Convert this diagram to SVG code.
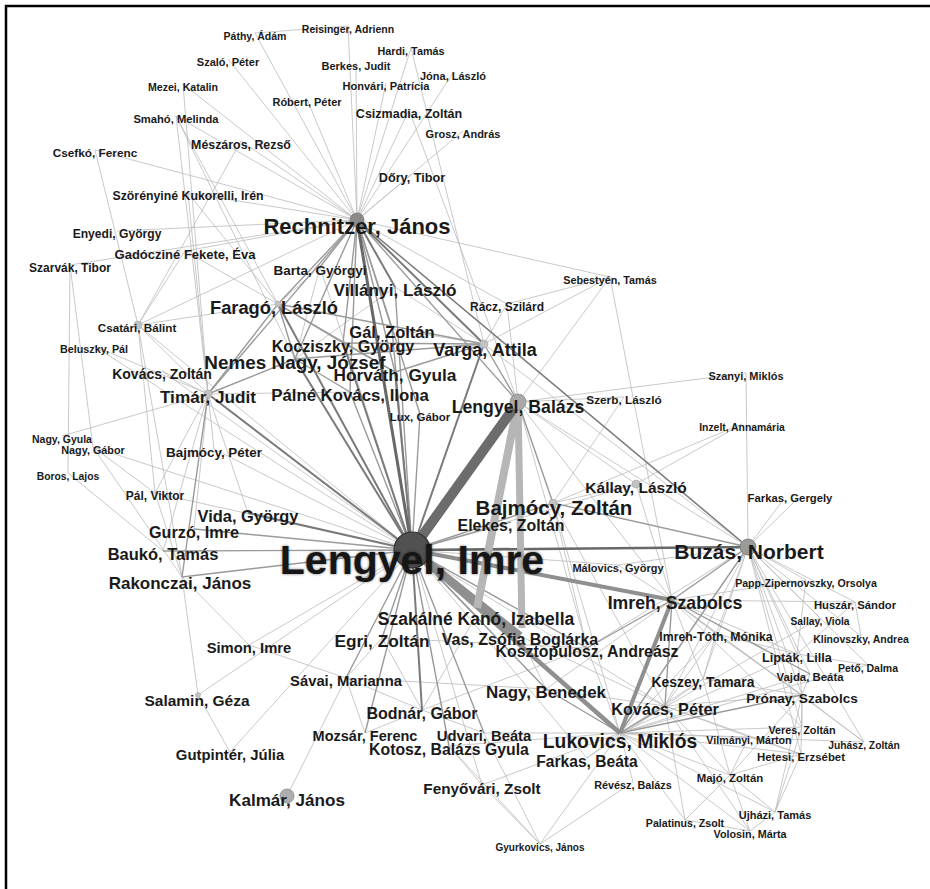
<svg xmlns="http://www.w3.org/2000/svg" width="930" height="889" viewBox="0 0 930 889">
<defs>
<style>
.n{font-family:"Liberation Sans",Arial,Helvetica,sans-serif;font-weight:bold;fill:#1a1a1a;text-anchor:middle}
.t line{stroke:#bbbbbb;stroke-width:0.8}
.m line{stroke:#9a9a9a;stroke-width:1.4}
.d line{stroke:#7a7a7a;stroke-width:2}
.k line{stroke:#686868;stroke-width:3}
.sm{fill:#c2c2c2;stroke:#a8a8a8;stroke-width:0.6}
</style>
<filter id="soft" x="-10%" y="-30%" width="120%" height="160%"><feGaussianBlur stdDeviation="1.6"/></filter>
</defs>
<rect width="930" height="889" fill="#fff"/>
<path d="M6,889 V6 H930" fill="none" stroke="#000" stroke-width="2.5"/>
<g id="connectors">
<g class="t">
<line x1="357" y1="220" x2="255" y2="33"/>
<line x1="357" y1="220" x2="348" y2="26"/>
<line x1="357" y1="220" x2="411" y2="48"/>
<line x1="357" y1="220" x2="356" y2="63"/>
<line x1="357" y1="220" x2="453" y2="73"/>
<line x1="357" y1="220" x2="386" y2="83"/>
<line x1="357" y1="220" x2="307" y2="99"/>
<line x1="357" y1="220" x2="409" y2="110"/>
<line x1="357" y1="220" x2="463" y2="131"/>
<line x1="357" y1="220" x2="412" y2="174"/>
<line x1="357" y1="220" x2="228" y2="59"/>
<line x1="357" y1="220" x2="183" y2="84"/>
<line x1="357" y1="220" x2="176" y2="116"/>
<line x1="357" y1="220" x2="241" y2="141"/>
<line x1="357" y1="220" x2="95" y2="150"/>
<line x1="357" y1="220" x2="188" y2="193"/>
<line x1="357" y1="220" x2="117" y2="231"/>
<line x1="357" y1="220" x2="185" y2="251"/>
<line x1="357" y1="220" x2="70" y2="265"/>
<line x1="357" y1="220" x2="507" y2="304"/>
<line x1="357" y1="220" x2="610" y2="277"/>
<line x1="357" y1="220" x2="138" y2="325"/>
<line x1="255" y1="33" x2="348" y2="26"/>
<line x1="409" y1="110" x2="518" y2="402"/>
<line x1="411" y1="48" x2="484" y2="344"/>
<line x1="183" y1="84" x2="208" y2="394"/>
<line x1="176" y1="116" x2="208" y2="394"/>
<line x1="176" y1="116" x2="278" y2="304"/>
<line x1="176" y1="116" x2="295" y2="359"/>
<line x1="241" y1="141" x2="138" y2="325"/>
<line x1="95" y1="150" x2="138" y2="325"/>
<line x1="188" y1="193" x2="208" y2="394"/>
<line x1="188" y1="193" x2="278" y2="304"/>
<line x1="185" y1="251" x2="138" y2="325"/>
<line x1="185" y1="251" x2="278" y2="304"/>
<line x1="70" y1="265" x2="93" y2="447"/>
<line x1="68" y1="473" x2="70" y2="265"/>
<line x1="320" y1="267" x2="412" y2="550"/>
<line x1="320" y1="267" x2="278" y2="304"/>
<line x1="320" y1="267" x2="295" y2="359"/>
<line x1="395" y1="287" x2="295" y2="359"/>
<line x1="392" y1="329" x2="484" y2="344"/>
<line x1="395" y1="287" x2="484" y2="344"/>
<line x1="350" y1="392" x2="208" y2="394"/>
<line x1="278" y1="304" x2="138" y2="325"/>
<line x1="162" y1="371" x2="412" y2="550"/>
<line x1="162" y1="371" x2="208" y2="394"/>
<line x1="138" y1="325" x2="412" y2="550"/>
<line x1="138" y1="325" x2="208" y2="394"/>
<line x1="138" y1="325" x2="155" y2="493"/>
<line x1="138" y1="325" x2="182" y2="577"/>
<line x1="94" y1="346" x2="208" y2="394"/>
<line x1="94" y1="346" x2="412" y2="550"/>
<line x1="62" y1="436" x2="208" y2="394"/>
<line x1="93" y1="447" x2="182" y2="577"/>
<line x1="93" y1="447" x2="155" y2="493"/>
<line x1="93" y1="447" x2="412" y2="550"/>
<line x1="68" y1="473" x2="163" y2="551"/>
<line x1="208" y1="394" x2="194" y2="529"/>
<line x1="208" y1="394" x2="155" y2="493"/>
<line x1="208" y1="394" x2="214" y2="449"/>
<line x1="208" y1="394" x2="163" y2="551"/>
<line x1="208" y1="394" x2="248" y2="513"/>
<line x1="155" y1="493" x2="182" y2="577"/>
<line x1="155" y1="493" x2="412" y2="550"/>
<line x1="214" y1="449" x2="412" y2="550"/>
<line x1="249" y1="645" x2="412" y2="550"/>
<line x1="198" y1="695" x2="412" y2="550"/>
<line x1="230" y1="752" x2="412" y2="550"/>
<line x1="249" y1="645" x2="182" y2="577"/>
<line x1="198" y1="695" x2="182" y2="577"/>
<line x1="198" y1="695" x2="230" y2="752"/>
<line x1="249" y1="645" x2="346" y2="678"/>
<line x1="287" y1="796" x2="346" y2="678"/>
<line x1="482" y1="785" x2="412" y2="550"/>
<line x1="587" y1="758" x2="412" y2="550"/>
<line x1="665" y1="706" x2="412" y2="550"/>
<line x1="636" y1="484" x2="412" y2="550"/>
<line x1="618" y1="565" x2="412" y2="550"/>
<line x1="518" y1="402" x2="610" y2="277"/>
<line x1="518" y1="402" x2="746" y2="373"/>
<line x1="518" y1="402" x2="624" y2="397"/>
<line x1="518" y1="402" x2="748" y2="547"/>
<line x1="518" y1="402" x2="507" y2="304"/>
<line x1="518" y1="402" x2="587" y2="648"/>
<line x1="518" y1="402" x2="636" y2="484"/>
<line x1="518" y1="402" x2="672" y2="600"/>
<line x1="484" y1="344" x2="610" y2="277"/>
<line x1="484" y1="344" x2="507" y2="304"/>
<line x1="484" y1="344" x2="748" y2="547"/>
<line x1="507" y1="304" x2="610" y2="277"/>
<line x1="610" y1="277" x2="672" y2="600"/>
<line x1="746" y1="373" x2="748" y2="547"/>
<line x1="624" y1="397" x2="553" y2="503"/>
<line x1="742" y1="424" x2="636" y2="484"/>
<line x1="742" y1="424" x2="553" y2="503"/>
<line x1="636" y1="484" x2="672" y2="600"/>
<line x1="636" y1="484" x2="553" y2="503"/>
<line x1="783" y1="500" x2="748" y2="547"/>
<line x1="796" y1="500" x2="748" y2="547"/>
<line x1="553" y1="503" x2="587" y2="648"/>
<line x1="553" y1="503" x2="620" y2="733"/>
<line x1="553" y1="503" x2="665" y2="706"/>
<line x1="618" y1="565" x2="748" y2="547"/>
<line x1="618" y1="565" x2="672" y2="600"/>
<line x1="748" y1="547" x2="806" y2="580"/>
<line x1="748" y1="547" x2="855" y2="602"/>
<line x1="748" y1="547" x2="820" y2="618"/>
<line x1="748" y1="547" x2="861" y2="636"/>
<line x1="748" y1="547" x2="797" y2="654"/>
<line x1="748" y1="547" x2="868" y2="665"/>
<line x1="748" y1="547" x2="810" y2="674"/>
<line x1="748" y1="547" x2="802" y2="695"/>
<line x1="748" y1="547" x2="802" y2="727"/>
<line x1="748" y1="547" x2="801" y2="754"/>
<line x1="748" y1="547" x2="864" y2="742"/>
<line x1="748" y1="547" x2="716" y2="634"/>
<line x1="748" y1="547" x2="665" y2="706"/>
<line x1="748" y1="547" x2="703" y2="679"/>
<line x1="672" y1="600" x2="703" y2="679"/>
<line x1="672" y1="600" x2="716" y2="634"/>
<line x1="672" y1="600" x2="802" y2="695"/>
<line x1="672" y1="600" x2="797" y2="654"/>
<line x1="672" y1="600" x2="806" y2="580"/>
<line x1="672" y1="600" x2="855" y2="602"/>
<line x1="672" y1="600" x2="546" y2="689"/>
<line x1="672" y1="600" x2="864" y2="742"/>
<line x1="672" y1="600" x2="802" y2="727"/>
<line x1="620" y1="733" x2="703" y2="679"/>
<line x1="620" y1="733" x2="802" y2="727"/>
<line x1="620" y1="733" x2="749" y2="737"/>
<line x1="620" y1="733" x2="801" y2="754"/>
<line x1="620" y1="733" x2="730" y2="775"/>
<line x1="620" y1="733" x2="685" y2="820"/>
<line x1="620" y1="733" x2="750" y2="831"/>
<line x1="620" y1="733" x2="775" y2="812"/>
<line x1="620" y1="733" x2="864" y2="742"/>
<line x1="620" y1="733" x2="633" y2="782"/>
<line x1="620" y1="733" x2="587" y2="758"/>
<line x1="620" y1="733" x2="716" y2="634"/>
<line x1="620" y1="733" x2="797" y2="654"/>
<line x1="620" y1="733" x2="810" y2="674"/>
<line x1="620" y1="733" x2="868" y2="665"/>
<line x1="620" y1="733" x2="540" y2="844"/>
<line x1="620" y1="733" x2="484" y2="733"/>
<line x1="620" y1="733" x2="449" y2="746"/>
<line x1="620" y1="733" x2="482" y2="785"/>
<line x1="620" y1="733" x2="587" y2="648"/>
<line x1="620" y1="733" x2="820" y2="618"/>
<line x1="665" y1="706" x2="703" y2="679"/>
<line x1="665" y1="706" x2="802" y2="695"/>
<line x1="665" y1="706" x2="730" y2="775"/>
<line x1="665" y1="706" x2="685" y2="820"/>
<line x1="665" y1="706" x2="750" y2="831"/>
<line x1="665" y1="706" x2="749" y2="737"/>
<line x1="665" y1="706" x2="801" y2="754"/>
<line x1="665" y1="706" x2="716" y2="634"/>
<line x1="802" y1="695" x2="802" y2="727"/>
<line x1="802" y1="695" x2="801" y2="754"/>
<line x1="802" y1="695" x2="864" y2="742"/>
<line x1="802" y1="695" x2="730" y2="775"/>
<line x1="802" y1="695" x2="810" y2="674"/>
<line x1="802" y1="695" x2="797" y2="654"/>
<line x1="802" y1="695" x2="703" y2="679"/>
<line x1="802" y1="695" x2="716" y2="634"/>
<line x1="802" y1="695" x2="775" y2="812"/>
<line x1="730" y1="775" x2="685" y2="820"/>
<line x1="730" y1="775" x2="750" y2="831"/>
<line x1="730" y1="775" x2="775" y2="812"/>
<line x1="730" y1="775" x2="749" y2="737"/>
<line x1="730" y1="775" x2="801" y2="754"/>
<line x1="750" y1="831" x2="685" y2="820"/>
<line x1="750" y1="831" x2="775" y2="812"/>
<line x1="775" y1="812" x2="801" y2="754"/>
<line x1="775" y1="812" x2="802" y2="727"/>
<line x1="703" y1="679" x2="716" y2="634"/>
<line x1="703" y1="679" x2="730" y2="775"/>
<line x1="716" y1="634" x2="797" y2="654"/>
<line x1="855" y1="602" x2="797" y2="654"/>
<line x1="855" y1="602" x2="861" y2="636"/>
<line x1="797" y1="654" x2="868" y2="665"/>
<line x1="806" y1="580" x2="797" y2="654"/>
<line x1="749" y1="737" x2="801" y2="754"/>
<line x1="476" y1="616" x2="546" y2="689"/>
<line x1="476" y1="616" x2="422" y2="710"/>
<line x1="520" y1="636" x2="546" y2="689"/>
<line x1="520" y1="636" x2="665" y2="706"/>
<line x1="382" y1="638" x2="422" y2="710"/>
<line x1="382" y1="638" x2="346" y2="678"/>
<line x1="346" y1="678" x2="422" y2="710"/>
<line x1="365" y1="733" x2="422" y2="710"/>
<line x1="365" y1="733" x2="346" y2="678"/>
<line x1="422" y1="710" x2="484" y2="733"/>
<line x1="422" y1="710" x2="587" y2="648"/>
<line x1="346" y1="678" x2="546" y2="689"/>
<line x1="382" y1="638" x2="587" y2="648"/>
<line x1="449" y1="746" x2="482" y2="785"/>
<line x1="482" y1="785" x2="540" y2="844"/>
<line x1="540" y1="844" x2="484" y2="733"/>
<line x1="540" y1="844" x2="449" y2="746"/>
<line x1="540" y1="844" x2="633" y2="782"/>
<line x1="546" y1="689" x2="665" y2="706"/>
<line x1="587" y1="648" x2="748" y2="547"/>
<line x1="587" y1="758" x2="665" y2="706"/>
</g>
<g class="m">
<line x1="357" y1="220" x2="320" y2="267"/>
<line x1="357" y1="220" x2="278" y2="304"/>
<line x1="357" y1="220" x2="295" y2="359"/>
<line x1="357" y1="220" x2="343" y2="343"/>
<line x1="357" y1="220" x2="392" y2="329"/>
<line x1="357" y1="220" x2="395" y2="372"/>
<line x1="357" y1="220" x2="350" y2="392"/>
<line x1="357" y1="220" x2="208" y2="394"/>
<line x1="357" y1="220" x2="420" y2="414"/>
<line x1="357" y1="220" x2="518" y2="402"/>
<line x1="278" y1="304" x2="295" y2="359"/>
<line x1="278" y1="304" x2="343" y2="343"/>
<line x1="278" y1="304" x2="484" y2="344"/>
<line x1="278" y1="304" x2="208" y2="394"/>
<line x1="278" y1="304" x2="395" y2="372"/>
<line x1="295" y1="359" x2="484" y2="344"/>
<line x1="343" y1="343" x2="484" y2="344"/>
<line x1="395" y1="372" x2="484" y2="344"/>
<line x1="295" y1="359" x2="208" y2="394"/>
<line x1="350" y1="392" x2="295" y2="359"/>
<line x1="343" y1="343" x2="395" y2="372"/>
<line x1="392" y1="329" x2="412" y2="550"/>
<line x1="350" y1="392" x2="412" y2="550"/>
<line x1="395" y1="287" x2="412" y2="550"/>
<line x1="420" y1="414" x2="412" y2="550"/>
<line x1="194" y1="529" x2="412" y2="550"/>
<line x1="163" y1="551" x2="412" y2="550"/>
<line x1="182" y1="577" x2="412" y2="550"/>
<line x1="208" y1="394" x2="182" y2="577"/>
<line x1="476" y1="616" x2="412" y2="550"/>
<line x1="382" y1="638" x2="412" y2="550"/>
<line x1="346" y1="678" x2="412" y2="550"/>
<line x1="365" y1="733" x2="412" y2="550"/>
<line x1="484" y1="733" x2="412" y2="550"/>
<line x1="449" y1="746" x2="412" y2="550"/>
<line x1="546" y1="689" x2="412" y2="550"/>
<line x1="587" y1="648" x2="412" y2="550"/>
<line x1="511" y1="522" x2="412" y2="550"/>
<line x1="553" y1="503" x2="412" y2="550"/>
<line x1="518" y1="402" x2="484" y2="344"/>
<line x1="518" y1="402" x2="553" y2="503"/>
<line x1="748" y1="547" x2="620" y2="733"/>
<line x1="748" y1="547" x2="672" y2="600"/>
<line x1="748" y1="547" x2="553" y2="503"/>
<line x1="672" y1="600" x2="665" y2="706"/>
<line x1="672" y1="600" x2="810" y2="674"/>
<line x1="672" y1="600" x2="587" y2="648"/>
<line x1="620" y1="733" x2="665" y2="706"/>
<line x1="620" y1="733" x2="802" y2="695"/>
<line x1="620" y1="733" x2="546" y2="689"/>
</g>
<g class="d">
<line x1="357" y1="220" x2="395" y2="287"/>
<line x1="357" y1="220" x2="484" y2="344"/>
<line x1="357" y1="220" x2="748" y2="547" style="stroke-width:1.5"/>
<line x1="278" y1="304" x2="412" y2="550"/>
<line x1="295" y1="359" x2="412" y2="550"/>
<line x1="343" y1="343" x2="412" y2="550"/>
<line x1="395" y1="372" x2="412" y2="550"/>
<line x1="484" y1="344" x2="412" y2="550"/>
<line x1="208" y1="394" x2="412" y2="550"/>
<line x1="248" y1="513" x2="412" y2="550"/>
<line x1="422" y1="710" x2="412" y2="550"/>
</g>
<g class="k">
<line x1="357" y1="220" x2="412" y2="550"/>
<line x1="412" y1="550" x2="748" y2="547" style="stroke-width:2.5"/>
</g>
<g id="heavy" fill="none">
<line x1="412" y1="550" x2="520" y2="636" stroke="#8f8f8f" stroke-width="8"/>
<line x1="412" y1="550" x2="620" y2="733" stroke="#8f8f8f" stroke-width="4.5"/>
<line x1="412" y1="550" x2="672" y2="600" stroke="#8f8f8f" stroke-width="4"/>
<line x1="672" y1="600" x2="620" y2="733" stroke="#8f8f8f" stroke-width="4"/>
<line x1="518" y1="402" x2="477" y2="608" stroke="#b6b6b6" stroke-width="8"/>
<line x1="518" y1="402" x2="522" y2="628" stroke="#b6b6b6" stroke-width="7"/>
<line x1="412" y1="550" x2="518" y2="402" stroke="#6c6c6c" stroke-width="10"/>
</g>
</g>
<g id="nodes">
<g id="n-pathy"><text class="n" x="255" y="39.8" font-size="10.5">Páthy, Ádám</text></g>
<g id="n-reisinger"><text class="n" x="348" y="32.8" font-size="10.5">Reisinger, Adrienn</text></g>
<g id="n-hardi"><text class="n" x="411" y="54.9" font-size="10.8">Hardi, Tamás</text></g>
<g id="n-berkes"><text class="n" x="356" y="70" font-size="11">Berkes, Judit</text></g>
<g id="n-jona"><text class="n" x="453" y="80" font-size="11">Jóna, László</text></g>
<g id="n-honvari"><text class="n" x="386" y="90" font-size="11">Honvári, Patrícia</text></g>
<g id="n-robert"><text class="n" x="307" y="106" font-size="11">Róbert, Péter</text></g>
<g id="n-csizmadia"><text class="n" x="409" y="117.5" font-size="12.5">Csizmadia, Zoltán</text></g>
<g id="n-grosz"><text class="n" x="463" y="138" font-size="11">Grosz, András</text></g>
<g id="n-dory"><text class="n" x="412" y="181.6" font-size="12.7">Dőry, Tibor</text></g>
<g id="n-szalo"><text class="n" x="228" y="66" font-size="11">Szaló, Péter</text></g>
<g id="n-mezei"><text class="n" x="183" y="90.8" font-size="10.6">Mezei, Katalin</text></g>
<g id="n-smaho"><text class="n" x="176" y="123" font-size="11.2">Smahó, Melinda</text></g>
<g id="n-meszaros"><text class="n" x="241" y="148.5" font-size="12.4">Mészáros, Rezső</text></g>
<g id="n-csefko"><text class="n" x="95" y="157.2" font-size="11.8">Csefkó, Ferenc</text></g>
<g id="n-szorenyine"><text class="n" x="188" y="200.4" font-size="12.3">Szörényiné Kukorelli, Irén</text></g>
<g id="n-rechnitzer"><circle cx="357" cy="220" r="7" fill="#8a8a8a" stroke="#777" stroke-width="0.8"/><text class="n" x="357" y="233.5" font-size="22">Rechnitzer, János</text></g>
<g id="n-enyedi"><text class="n" x="117" y="238.4" font-size="12.1">Enyedi, György</text></g>
<g id="n-gadoczine"><text class="n" x="185" y="258.7" font-size="13">Gadócziné Fekete, Éva</text></g>
<g id="n-szarvak"><text class="n" x="70" y="272.3" font-size="12">Szarvák, Tibor</text></g>
<g id="n-barta"><text class="n" x="320" y="274.9" font-size="13.5">Barta, Györgyi</text></g>
<g id="n-sebestyen"><text class="n" x="610" y="283.9" font-size="10.8">Sebestyén, Tamás</text></g>
<g id="n-villanyi"><text class="n" x="395" y="296.2" font-size="17.2">Villányi, László</text></g>
<g id="n-farago"><circle cx="278" cy="304" r="3" class="sm"/><text class="n" x="274" y="313.6" font-size="18.3">Faragó, László</text></g>
<g id="n-racz"><text class="n" x="507" y="311.3" font-size="12">Rácz, Szilárd</text></g>
<g id="n-gal"><text class="n" x="392" y="337.6" font-size="16.5">Gál, Zoltán</text></g>
<g id="n-kocziszky"><text class="n" x="343" y="352.3" font-size="16.2">Kocziszky, György</text></g>
<g id="n-varga"><circle cx="484" cy="344" r="4" class="sm"/><text class="n" x="485" y="355.5" font-size="18">Varga, Attila</text></g>
<g id="n-nemesnagy"><text class="n" x="295" y="368.8" font-size="18.9">Nemes Nagy, József</text></g>
<g id="n-horvath"><text class="n" x="395" y="381.2" font-size="17.3">Horváth, Gyula</text></g>
<g id="n-palne"><text class="n" x="350" y="401" font-size="16.8">Pálné Kovács, Ilona</text></g>
<g id="n-timar"><circle cx="208" cy="394" r="4" class="sm"/><text class="n" x="208" y="403.2" font-size="17.2">Timár, Judit</text></g>
<g id="n-kovacsz"><text class="n" x="162" y="379" font-size="14">Kovács, Zoltán</text></g>
<g id="n-csatari"><circle cx="138" cy="325" r="4" class="sm"/><text class="n" x="137" y="332.2" font-size="11.7">Csatári, Bálint</text></g>
<g id="n-beluszky"><text class="n" x="94" y="352.9" font-size="10.8">Beluszky, Pál</text></g>
<g id="n-nagygyula"><text class="n" x="62" y="442.8" font-size="10.5">Nagy, Gyula</text></g>
<g id="n-nagygabor"><text class="n" x="93" y="453.9" font-size="10.8">Nagy, Gábor</text></g>
<g id="n-boros"><text class="n" x="68" y="479.7" font-size="10.3">Boros, Lajos</text></g>
<g id="n-bajmocyp"><text class="n" x="214" y="456.8" font-size="13.4">Bajmócy, Péter</text></g>
<g id="n-palviktor"><text class="n" x="155" y="500.3" font-size="12">Pál, Viktor</text></g>
<g id="n-vida"><text class="n" x="248" y="521.9" font-size="16.4">Vida, György</text></g>
<g id="n-gurzo"><text class="n" x="194" y="537.8" font-size="16.2">Gurzó, Imre</text></g>
<g id="n-bauko"><text class="n" x="163" y="559.9" font-size="16.5">Baukó, Tamás</text></g>
<g id="n-rakonczai"><text class="n" x="180" y="589.1" font-size="17">Rakonczai, János</text></g>
<g id="n-simon"><text class="n" x="249" y="653.3" font-size="14.8">Simon, Imre</text></g>
<g id="n-salamin"><circle cx="198" cy="695" r="2.5" class="sm"/><text class="n" x="197" y="705.6" font-size="15.5">Salamin, Géza</text></g>
<g id="n-gutpinter"><text class="n" x="230" y="760.4" font-size="14.9">Gutpintér, Júlia</text></g>
<g id="n-kalmar"><circle cx="287" cy="796" r="7" fill="#adadad" stroke="#8a8a8a" stroke-width="0.8"/><text class="n" x="287" y="806.2" font-size="17.1">Kalmár, János</text></g>
<g id="n-savai"><text class="n" x="346" y="686.3" font-size="14.8">Sávai, Marianna</text></g>
<g id="n-egri"><text class="n" x="382" y="647.2" font-size="17.3">Egri, Zoltán</text></g>
<g id="n-szakalne"><text class="n" x="476" y="625.3" font-size="17.5">Szakálné Kanó, Izabella</text></g>
<g id="n-vas"><text class="n" x="520" y="644.5" font-size="16">Vas, Zsófia Boglárka</text></g>
<g id="n-kosztopulosz"><text class="n" x="587" y="657.2" font-size="15.9">Kosztopulosz, Andreász</text></g>
<g id="n-nagybenedek"><text class="n" x="546" y="698.1" font-size="16.9">Nagy, Benedek</text></g>
<g id="n-bodnar"><text class="n" x="422" y="718.8" font-size="16">Bodnár, Gábor</text></g>
<g id="n-mozsar"><text class="n" x="365" y="741.2" font-size="14.5">Mozsár, Ferenc</text></g>
<g id="n-udvari"><text class="n" x="484" y="741" font-size="14.8">Udvari, Beáta</text></g>
<g id="n-kotosz"><text class="n" x="449" y="755.3" font-size="15.8">Kotosz, Balázs Gyula</text></g>
<g id="n-lukovics"><text class="n" x="620" y="747.9" font-size="19.3">Lukovics, Miklós</text></g>
<g id="n-farkasb"><text class="n" x="587" y="766.6" font-size="15.6">Farkas, Beáta</text></g>
<g id="n-fenyovari"><text class="n" x="482" y="793.5" font-size="15.3">Fenyővári, Zsolt</text></g>
<g id="n-revesz"><text class="n" x="633" y="788.9" font-size="10.8">Révész, Balázs</text></g>
<g id="n-gyurkovics"><text class="n" x="540" y="850.6" font-size="10">Gyurkovics, János</text></g>
<g id="n-malovics"><text class="n" x="618" y="572" font-size="11">Málovics, György</text></g>
<g id="n-elekes"><text class="n" x="511" y="530.7" font-size="15.9">Elekes, Zoltán</text></g>
<g id="n-bajmocyz"><circle cx="553" cy="503" r="4" class="sm"/><text class="n" x="554" y="515.4" font-size="20.5">Bajmócy, Zoltán</text></g>
<g id="n-kallay"><circle cx="636" cy="484" r="4" class="sm"/><text class="n" x="636" y="492.6" font-size="15.5">Kállay, László</text></g>
<g id="n-buzas"><circle cx="748" cy="547" r="8" fill="#9a9a9a" stroke="#7a7a7a" stroke-width="0.8"/><text class="n" x="749" y="558.6" font-size="21">Buzás, Norbert</text></g>
<g id="n-farkasg"><text class="n" x="790" y="502.1" font-size="11.3">Farkas, Gergely</text></g>
<g id="n-inzelt"><text class="n" x="742" y="430.7" font-size="10.4">Inzelt, Annamária</text></g>
<g id="n-szanyi"><text class="n" x="746" y="380" font-size="11">Szanyi, Miklós</text></g>
<g id="n-szerb"><text class="n" x="624" y="404.2" font-size="11.8">Szerb, László</text></g>
<g id="n-lux"><text class="n" x="420" y="421.1" font-size="11.5">Lux, Gábor</text></g>
<g id="n-imreh"><text class="n" x="675" y="609.4" font-size="17.7">Imreh, Szabolcs</text></g>
<g id="n-papp"><text class="n" x="806" y="586.8" font-size="10.6">Papp-Zipernovszky, Orsolya</text></g>
<g id="n-huszar"><text class="n" x="855" y="609.1" font-size="11.3">Huszár, Sándor</text></g>
<g id="n-sallay"><text class="n" x="820" y="624.7" font-size="10.3">Sallay, Viola</text></g>
<g id="n-klinovszky"><text class="n" x="861" y="642.8" font-size="10.5">Klinovszky, Andrea</text></g>
<g id="n-imrehtoth"><text class="n" x="716" y="641.4" font-size="12.3">Imreh-Tóth, Mónika</text></g>
<g id="n-liptak"><text class="n" x="797" y="661.6" font-size="12.7">Lipták, Lilla</text></g>
<g id="n-peto"><text class="n" x="868" y="671.8" font-size="10.5">Pető, Dalma</text></g>
<g id="n-vajda"><text class="n" x="810" y="681.1" font-size="11.4">Vajda, Beáta</text></g>
<g id="n-keszey"><text class="n" x="703" y="687" font-size="13.9">Keszey, Tamara</text></g>
<g id="n-pronay"><text class="n" x="802" y="702.9" font-size="13.6">Prónay, Szabolcs</text></g>
<g id="n-kovacsp"><text class="n" x="665" y="714.9" font-size="16.3">Kovács, Péter</text></g>
<g id="n-veres"><text class="n" x="802" y="733.9" font-size="10.8">Veres, Zoltán</text></g>
<g id="n-vilmanyi"><text class="n" x="749" y="743.9" font-size="10.7">Vilmányi, Márton</text></g>
<g id="n-juhasz"><text class="n" x="864" y="748.7" font-size="10.3">Juhász, Zoltán</text></g>
<g id="n-hetesi"><text class="n" x="801" y="761.1" font-size="11.4">Hetesi, Erzsébet</text></g>
<g id="n-majo"><text class="n" x="730" y="782.1" font-size="11.4">Majó, Zoltán</text></g>
<g id="n-ujhazi"><text class="n" x="775" y="819" font-size="11">Ujházi, Tamás</text></g>
<g id="n-palatinus"><text class="n" x="685" y="826.8" font-size="10.6">Palatinus, Zsolt</text></g>
<g id="n-volosin"><text class="n" x="750" y="837.9" font-size="10.8">Volosin, Márta</text></g>
<g id="n-lengyelb"><circle cx="518" cy="402" r="8" fill="#a9a9a9" stroke="#8a8a8a" stroke-width="0.8"/><text class="n" x="518" y="413.4" font-size="17.7">Lengyel, Balázs</text></g>
<g id="n-lengyeli"><circle cx="412" cy="550" r="18" fill="#515151" stroke="#333" stroke-width="1.2"/><text class="n" x="412" y="574" font-size="41" style="fill:#000;opacity:0.55" filter="url(#soft)">Lengyel, Imre</text><text class="n" x="412" y="574" font-size="41" style="fill:#161616">Lengyel, Imre</text></g>
</g>
</svg>
